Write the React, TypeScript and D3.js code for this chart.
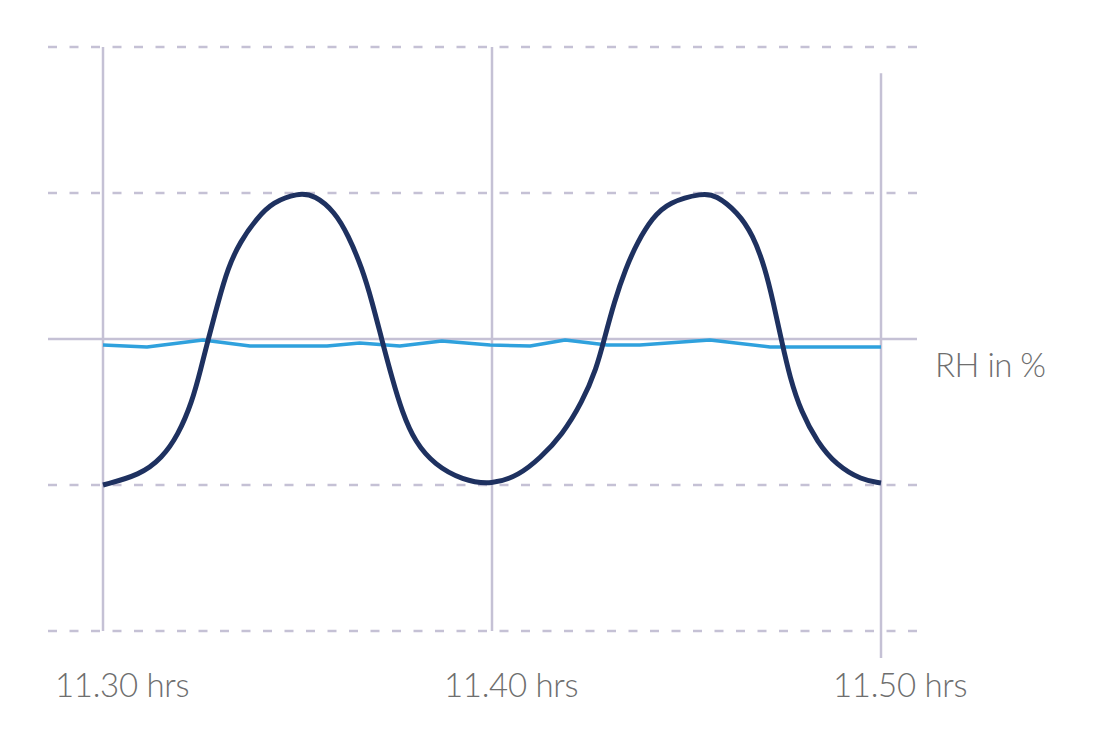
import React from "react";
import * as d3 from "d3";

// time in minutes after 11.30
const xTicks = [0, 10, 20];
const xTickLabels = ["11.30 hrs", "11.40 hrs", "11.50 hrs"];
const yGrid = [0, 1, 2, 3, 4];

const tempT = [
  0, 0.95, 1.52, 1.93, 2.29, 2.52, 2.70, 2.96, 3.21, 3.52, 3.96, 4.37, 5.0,
  5.45, 5.96, 6.30, 6.66, 6.92, 7.17, 7.43, 7.69, 8.02, 8.53, 9.23, 10.0,
  10.7, 11.24, 11.80, 12.32, 12.69, 12.88, 13.14, 13.44, 13.74, 14.12, 14.54, 15.42,
  15.75, 16.31, 16.71, 17.02, 17.23, 17.44, 17.66, 17.95, 18.36, 18.85, 19.5, 20.0,
];
const tempV = [
  1.0, 1.068, 1.185, 1.342, 1.568, 1.801, 1.993, 2.253, 2.486, 2.664, 2.829, 2.938, 3.0,
  2.986, 2.870, 2.712, 2.486, 2.253, 1.993, 1.733, 1.5, 1.295, 1.137, 1.034, 1.0,
  1.068, 1.185, 1.342, 1.568, 1.801, 1.993, 2.253, 2.486, 2.664, 2.829, 2.938, 3.0,
  2.986, 2.870, 2.712, 2.486, 2.253, 1.993, 1.733, 1.5, 1.295, 1.137, 1.034, 1.014,
];

const rhT = [0, 1.13, 2.57, 3.78, 5.76, 6.6, 7.63, 8.71, 9.95, 10.98, 11.88, 12.96, 13.8, 15.6, 17.15, 20];
const rhV = [1.959, 1.945, 1.993, 1.952, 1.952, 1.973, 1.952, 1.986, 1.959, 1.952, 1.993, 1.959, 1.959, 1.993, 1.945, 1.945];

const rhLabel = "RH in %";

export default function App() {
  const x = d3.scaleLinear().domain([0, 20]).range([103, 881]);
  const y = d3.scaleLinear().domain([0, 4]).range([631, 47]);
  const gridX0 = 48, gridX1 = 917;
  const grid = "#c5c1d5";
  const font = "Lato, 'Open Sans', sans-serif";

  const tempLine = d3.line<number>()
    .x((_, i) => x(tempT[i]))
    .y((d) => y(d))
    .curve(d3.curveBasis)(tempV) || "";
  const rhLine = d3.line<number>()
    .x((_, i) => x(rhT[i]))
    .y((d) => y(d))(rhV) || "";

  return (
    <svg width={1095} height={737} style={{ position: "absolute", left: 0, top: 0, background: "#fff" }}>
      {yGrid.map((g) => (
        <line key={g} x1={gridX0} x2={gridX1} y1={y(g)} y2={y(g)} stroke={grid} strokeWidth={2.5}
          strokeDasharray={g === 2 ? undefined : "9 12.5"} />
      ))}
      {xTicks.map((t, i) => (
        <line key={t} x1={x(t)} x2={x(t)}
          y1={i === 2 ? y(3.82) : y(4)} y2={i === 2 ? y(-0.185) : y(0)}
          stroke={grid} strokeWidth={2.5} />
      ))}
      <path d={rhLine} fill="none" stroke="#2fa1dd" strokeWidth={3.5} strokeLinejoin="round" />
      <path d={tempLine} fill="none" stroke="#1e3160" strokeWidth={5} strokeLinecap="butt" />
      {xTicks.map((t, i) => (
        <text key={t} x={x(t) - 48} y={697} fontFamily={font} fontWeight={300} fontSize={33} letterSpacing={-0.3} fill="#6e6e6e">{xTickLabels[i]}</text>
      ))}
      <text x={935} y={377} fontFamily={font} fontWeight={300} fontSize={33} letterSpacing={-0.5} fill="#6e6e6e">{rhLabel}</text>
    </svg>
  );
}
